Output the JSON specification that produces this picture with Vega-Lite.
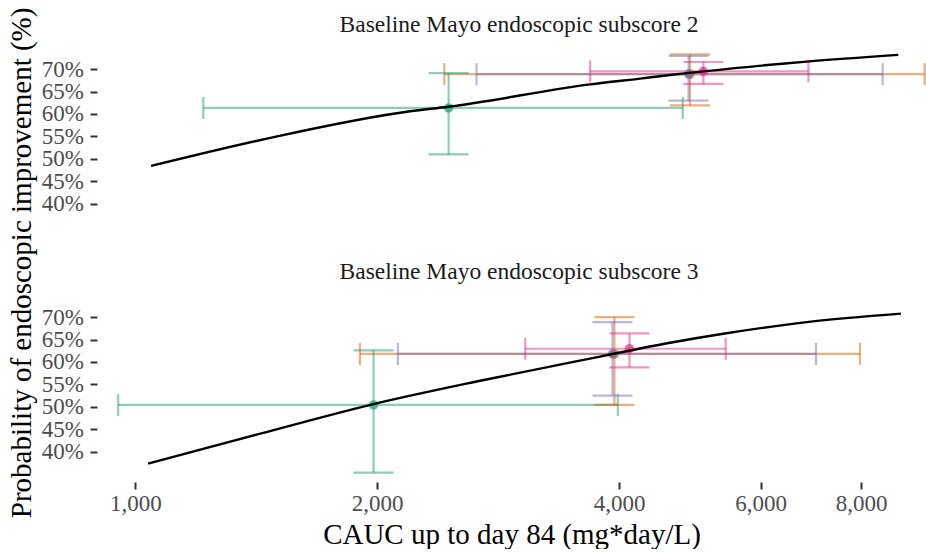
{
  "$schema": "https://vega.github.io/schema/vega-lite/v6.json",
  "background": "white",
  "padding": {"left": 7, "top": 7, "right": 0, "bottom": 0},
  "data": {"values": [
    {"panel": "s2", "kind": "pt", "grp": "A", "x": 2454, "xlo": 1215, "xhi": 4800, "p": 61.35, "ylo": 51.0, "yhi": 69.1},
    {"panel": "s2", "kind": "pt", "grp": "B", "x": 4900, "xlo": 2424, "xhi": 9600, "p": 68.9, "ylo": 61.9, "yhi": 73.3},
    {"panel": "s2", "kind": "pt", "grp": "C", "x": 4880, "xlo": 2658, "xhi": 8511, "p": 68.9, "ylo": 62.97, "yhi": 72.95},
    {"panel": "s2", "kind": "pt", "grp": "D", "x": 5092, "xlo": 3681, "xhi": 6880, "p": 69.5, "ylo": 66.7, "yhi": 71.6},
    {"panel": "s3", "kind": "pt", "grp": "A", "x": 1979, "xlo": 952, "xhi": 3985, "p": 50.4, "ylo": 35.3, "yhi": 62.6},
    {"panel": "s3", "kind": "pt", "grp": "B", "x": 3946, "xlo": 1903, "xhi": 7975, "p": 61.8, "ylo": 50.4, "yhi": 70.0},
    {"panel": "s3", "kind": "pt", "grp": "C", "x": 3924, "xlo": 2122, "xhi": 7031, "p": 61.8, "ylo": 52.5, "yhi": 68.9},
    {"panel": "s3", "kind": "pt", "grp": "D", "x": 4120, "xlo": 3056, "xhi": 5428, "p": 62.95, "ylo": 58.8, "yhi": 66.4},
    {"panel": "s2", "kind": "curve", "x": 1046, "p": 48.4},
    {"panel": "s2", "kind": "curve", "x": 1458, "p": 54.5},
    {"panel": "s2", "kind": "curve", "x": 2198, "p": 60.6},
    {"panel": "s2", "kind": "curve", "x": 2451, "p": 61.6},
    {"panel": "s2", "kind": "curve", "x": 3681, "p": 66.6},
    {"panel": "s2", "kind": "curve", "x": 4247, "p": 67.9},
    {"panel": "s2", "kind": "curve", "x": 4629, "p": 68.7},
    {"panel": "s2", "kind": "curve", "x": 5092, "p": 69.5},
    {"panel": "s2", "kind": "curve", "x": 6845, "p": 71.7},
    {"panel": "s2", "kind": "curve", "x": 8900, "p": 73.2},
    {"panel": "s3", "kind": "curve", "x": 1037, "p": 37.3},
    {"panel": "s3", "kind": "curve", "x": 1431, "p": 44.0},
    {"panel": "s3", "kind": "curve", "x": 1979, "p": 50.6},
    {"panel": "s3", "kind": "curve", "x": 2686, "p": 55.8},
    {"panel": "s3", "kind": "curve", "x": 3787, "p": 61.2},
    {"panel": "s3", "kind": "curve", "x": 4629, "p": 64.3},
    {"panel": "s3", "kind": "curve", "x": 5391, "p": 66.3},
    {"panel": "s3", "kind": "curve", "x": 6845, "p": 68.9},
    {"panel": "s3", "kind": "curve", "x": 8968, "p": 70.8}
  ]},
  "bounds": "flush",
  "spacing": 59,
  "vconcat": [
    {
      "title": {"text": "Baseline Mayo endoscopic subscore 2", "offset": -29},
      "width": 829,
      "height": 189,
      "transform": [{"filter": "datum.panel == 's2'"}],
      "layer": [
        {
          "transform": [{"filter": "datum.kind == 'pt'"}],
          "mark": {"type": "rule", "strokeWidth": 2.2, "opacity": 0.5},
          "encoding": {
            "x": {"field": "xlo", "type": "quantitative", "scale": {"type": "log", "domain": [896, 9636], "nice": false, "zero": false}, "axis": null},
            "x2": {"field": "xhi"},
            "y": {"field": "p", "type": "quantitative", "scale": {"domain": [33.2, 75.4], "nice": false, "zero": false}, "title": "Probability of endoscopic improvement (%)", "axis": {"values": [40, 45, 50, 55, 60, 65, 70], "labelExpr": "datum.value + '%'", "titleY": 217.4}},
            "color": {"field": "grp", "type": "nominal", "scale": {"domain": ["A", "B", "C", "D"], "range": ["#1b9e77", "#d95f02", "#7570b3", "#e7298a"]}, "legend": null}
          }
        },
        {
          "transform": [{"filter": "datum.kind == 'pt'"}],
          "mark": {"type": "rule", "strokeWidth": 2.2, "opacity": 0.5},
          "encoding": {
            "x": {"field": "x", "type": "quantitative", "scale": {"type": "log", "domain": [896, 9636], "nice": false, "zero": false}, "axis": null},
            "y": {"field": "ylo", "type": "quantitative", "scale": {"domain": [33.2, 75.4], "nice": false, "zero": false}, "title": "Probability of endoscopic improvement (%)", "axis": {"values": [40, 45, 50, 55, 60, 65, 70], "labelExpr": "datum.value + '%'", "titleY": 217.4}},
            "y2": {"field": "yhi"},
            "color": {"field": "grp", "type": "nominal", "scale": {"domain": ["A", "B", "C", "D"], "range": ["#1b9e77", "#d95f02", "#7570b3", "#e7298a"]}, "legend": null}
          }
        },
        {
          "transform": [{"filter": "datum.kind == 'pt'"}],
          "mark": {"type": "tick", "orient": "vertical", "size": 22, "thickness": 2.2, "opacity": 0.5},
          "encoding": {
            "x": {"field": "xlo", "type": "quantitative", "scale": {"type": "log", "domain": [896, 9636], "nice": false, "zero": false}, "axis": null},
            "y": {"field": "p", "type": "quantitative", "scale": {"domain": [33.2, 75.4], "nice": false, "zero": false}, "title": "Probability of endoscopic improvement (%)", "axis": {"values": [40, 45, 50, 55, 60, 65, 70], "labelExpr": "datum.value + '%'", "titleY": 217.4}},
            "color": {"field": "grp", "type": "nominal", "scale": {"domain": ["A", "B", "C", "D"], "range": ["#1b9e77", "#d95f02", "#7570b3", "#e7298a"]}, "legend": null}
          }
        },
        {
          "transform": [{"filter": "datum.kind == 'pt'"}],
          "mark": {"type": "tick", "orient": "vertical", "size": 22, "thickness": 2.2, "opacity": 0.5},
          "encoding": {
            "x": {"field": "xhi", "type": "quantitative", "scale": {"type": "log", "domain": [896, 9636], "nice": false, "zero": false}, "axis": null},
            "y": {"field": "p", "type": "quantitative", "scale": {"domain": [33.2, 75.4], "nice": false, "zero": false}, "title": "Probability of endoscopic improvement (%)", "axis": {"values": [40, 45, 50, 55, 60, 65, 70], "labelExpr": "datum.value + '%'", "titleY": 217.4}},
            "color": {"field": "grp", "type": "nominal", "scale": {"domain": ["A", "B", "C", "D"], "range": ["#1b9e77", "#d95f02", "#7570b3", "#e7298a"]}, "legend": null}
          }
        },
        {
          "transform": [{"filter": "datum.kind == 'pt'"}],
          "mark": {"type": "tick", "orient": "horizontal", "size": 40, "thickness": 2.2, "opacity": 0.5},
          "encoding": {
            "x": {"field": "x", "type": "quantitative", "scale": {"type": "log", "domain": [896, 9636], "nice": false, "zero": false}, "axis": null},
            "y": {"field": "ylo", "type": "quantitative", "scale": {"domain": [33.2, 75.4], "nice": false, "zero": false}, "title": "Probability of endoscopic improvement (%)", "axis": {"values": [40, 45, 50, 55, 60, 65, 70], "labelExpr": "datum.value + '%'", "titleY": 217.4}},
            "color": {"field": "grp", "type": "nominal", "scale": {"domain": ["A", "B", "C", "D"], "range": ["#1b9e77", "#d95f02", "#7570b3", "#e7298a"]}, "legend": null}
          }
        },
        {
          "transform": [{"filter": "datum.kind == 'pt'"}],
          "mark": {"type": "tick", "orient": "horizontal", "size": 40, "thickness": 2.2, "opacity": 0.5},
          "encoding": {
            "x": {"field": "x", "type": "quantitative", "scale": {"type": "log", "domain": [896, 9636], "nice": false, "zero": false}, "axis": null},
            "y": {"field": "yhi", "type": "quantitative", "scale": {"domain": [33.2, 75.4], "nice": false, "zero": false}, "title": "Probability of endoscopic improvement (%)", "axis": {"values": [40, 45, 50, 55, 60, 65, 70], "labelExpr": "datum.value + '%'", "titleY": 217.4}},
            "color": {"field": "grp", "type": "nominal", "scale": {"domain": ["A", "B", "C", "D"], "range": ["#1b9e77", "#d95f02", "#7570b3", "#e7298a"]}, "legend": null}
          }
        },
        {
          "transform": [{"filter": "datum.kind == 'pt'"}],
          "mark": {"type": "circle", "size": 90, "opacity": 0.7},
          "encoding": {
            "x": {"field": "x", "type": "quantitative", "scale": {"type": "log", "domain": [896, 9636], "nice": false, "zero": false}, "axis": null},
            "y": {"field": "p", "type": "quantitative", "scale": {"domain": [33.2, 75.4], "nice": false, "zero": false}, "title": "Probability of endoscopic improvement (%)", "axis": {"values": [40, 45, 50, 55, 60, 65, 70], "labelExpr": "datum.value + '%'", "titleY": 217.4}},
            "color": {"field": "grp", "type": "nominal", "scale": {"domain": ["A", "B", "C", "D"], "range": ["#1b9e77", "#d95f02", "#7570b3", "#e7298a"]}, "legend": null}
          }
        },
        {
          "transform": [{"filter": "datum.kind == 'curve'"}],
          "mark": {"type": "line", "color": "#000000", "strokeWidth": 2.4, "interpolate": "monotone"},
          "encoding": {
            "x": {"field": "x", "type": "quantitative", "scale": {"type": "log", "domain": [896, 9636], "nice": false, "zero": false}, "axis": null},
            "y": {"field": "p", "type": "quantitative", "scale": {"domain": [33.2, 75.4], "nice": false, "zero": false}, "title": "Probability of endoscopic improvement (%)", "axis": {"values": [40, 45, 50, 55, 60, 65, 70], "labelExpr": "datum.value + '%'", "titleY": 217.4}}
          }
        }
      ]
    },
    {
      "title": {"text": "Baseline Mayo endoscopic subscore 3", "offset": 10},
      "width": 829,
      "height": 189,
      "transform": [{"filter": "datum.panel == 's3'"}],
      "layer": [
        {
          "transform": [{"filter": "datum.kind == 'pt'"}],
          "mark": {"type": "rule", "strokeWidth": 2.2, "opacity": 0.5},
          "encoding": {
            "x": {"field": "xlo", "type": "quantitative", "scale": {"type": "log", "domain": [896, 9636], "nice": false, "zero": false}, "title": "CAUC up to day 84 (mg*day/L)", "axis": {"values": [1000, 2000, 4000, 6000, 8000], "format": ","}},
            "x2": {"field": "xhi"},
            "y": {"field": "p", "type": "quantitative", "scale": {"domain": [33.2, 75.4], "nice": false, "zero": false}, "title": null, "axis": {"values": [40, 45, 50, 55, 60, 65, 70], "labelExpr": "datum.value + '%'"}},
            "color": {"field": "grp", "type": "nominal", "scale": {"domain": ["A", "B", "C", "D"], "range": ["#1b9e77", "#d95f02", "#7570b3", "#e7298a"]}, "legend": null}
          }
        },
        {
          "transform": [{"filter": "datum.kind == 'pt'"}],
          "mark": {"type": "rule", "strokeWidth": 2.2, "opacity": 0.5},
          "encoding": {
            "x": {"field": "x", "type": "quantitative", "scale": {"type": "log", "domain": [896, 9636], "nice": false, "zero": false}, "title": "CAUC up to day 84 (mg*day/L)", "axis": {"values": [1000, 2000, 4000, 6000, 8000], "format": ","}},
            "y": {"field": "ylo", "type": "quantitative", "scale": {"domain": [33.2, 75.4], "nice": false, "zero": false}, "title": null, "axis": {"values": [40, 45, 50, 55, 60, 65, 70], "labelExpr": "datum.value + '%'"}},
            "y2": {"field": "yhi"},
            "color": {"field": "grp", "type": "nominal", "scale": {"domain": ["A", "B", "C", "D"], "range": ["#1b9e77", "#d95f02", "#7570b3", "#e7298a"]}, "legend": null}
          }
        },
        {
          "transform": [{"filter": "datum.kind == 'pt'"}],
          "mark": {"type": "tick", "orient": "vertical", "size": 22, "thickness": 2.2, "opacity": 0.5},
          "encoding": {
            "x": {"field": "xlo", "type": "quantitative", "scale": {"type": "log", "domain": [896, 9636], "nice": false, "zero": false}, "title": "CAUC up to day 84 (mg*day/L)", "axis": {"values": [1000, 2000, 4000, 6000, 8000], "format": ","}},
            "y": {"field": "p", "type": "quantitative", "scale": {"domain": [33.2, 75.4], "nice": false, "zero": false}, "title": null, "axis": {"values": [40, 45, 50, 55, 60, 65, 70], "labelExpr": "datum.value + '%'"}},
            "color": {"field": "grp", "type": "nominal", "scale": {"domain": ["A", "B", "C", "D"], "range": ["#1b9e77", "#d95f02", "#7570b3", "#e7298a"]}, "legend": null}
          }
        },
        {
          "transform": [{"filter": "datum.kind == 'pt'"}],
          "mark": {"type": "tick", "orient": "vertical", "size": 22, "thickness": 2.2, "opacity": 0.5},
          "encoding": {
            "x": {"field": "xhi", "type": "quantitative", "scale": {"type": "log", "domain": [896, 9636], "nice": false, "zero": false}, "title": "CAUC up to day 84 (mg*day/L)", "axis": {"values": [1000, 2000, 4000, 6000, 8000], "format": ","}},
            "y": {"field": "p", "type": "quantitative", "scale": {"domain": [33.2, 75.4], "nice": false, "zero": false}, "title": null, "axis": {"values": [40, 45, 50, 55, 60, 65, 70], "labelExpr": "datum.value + '%'"}},
            "color": {"field": "grp", "type": "nominal", "scale": {"domain": ["A", "B", "C", "D"], "range": ["#1b9e77", "#d95f02", "#7570b3", "#e7298a"]}, "legend": null}
          }
        },
        {
          "transform": [{"filter": "datum.kind == 'pt'"}],
          "mark": {"type": "tick", "orient": "horizontal", "size": 40, "thickness": 2.2, "opacity": 0.5},
          "encoding": {
            "x": {"field": "x", "type": "quantitative", "scale": {"type": "log", "domain": [896, 9636], "nice": false, "zero": false}, "title": "CAUC up to day 84 (mg*day/L)", "axis": {"values": [1000, 2000, 4000, 6000, 8000], "format": ","}},
            "y": {"field": "ylo", "type": "quantitative", "scale": {"domain": [33.2, 75.4], "nice": false, "zero": false}, "title": null, "axis": {"values": [40, 45, 50, 55, 60, 65, 70], "labelExpr": "datum.value + '%'"}},
            "color": {"field": "grp", "type": "nominal", "scale": {"domain": ["A", "B", "C", "D"], "range": ["#1b9e77", "#d95f02", "#7570b3", "#e7298a"]}, "legend": null}
          }
        },
        {
          "transform": [{"filter": "datum.kind == 'pt'"}],
          "mark": {"type": "tick", "orient": "horizontal", "size": 40, "thickness": 2.2, "opacity": 0.5},
          "encoding": {
            "x": {"field": "x", "type": "quantitative", "scale": {"type": "log", "domain": [896, 9636], "nice": false, "zero": false}, "title": "CAUC up to day 84 (mg*day/L)", "axis": {"values": [1000, 2000, 4000, 6000, 8000], "format": ","}},
            "y": {"field": "yhi", "type": "quantitative", "scale": {"domain": [33.2, 75.4], "nice": false, "zero": false}, "title": null, "axis": {"values": [40, 45, 50, 55, 60, 65, 70], "labelExpr": "datum.value + '%'"}},
            "color": {"field": "grp", "type": "nominal", "scale": {"domain": ["A", "B", "C", "D"], "range": ["#1b9e77", "#d95f02", "#7570b3", "#e7298a"]}, "legend": null}
          }
        },
        {
          "transform": [{"filter": "datum.kind == 'pt'"}],
          "mark": {"type": "circle", "size": 90, "opacity": 0.7},
          "encoding": {
            "x": {"field": "x", "type": "quantitative", "scale": {"type": "log", "domain": [896, 9636], "nice": false, "zero": false}, "title": "CAUC up to day 84 (mg*day/L)", "axis": {"values": [1000, 2000, 4000, 6000, 8000], "format": ","}},
            "y": {"field": "p", "type": "quantitative", "scale": {"domain": [33.2, 75.4], "nice": false, "zero": false}, "title": null, "axis": {"values": [40, 45, 50, 55, 60, 65, 70], "labelExpr": "datum.value + '%'"}},
            "color": {"field": "grp", "type": "nominal", "scale": {"domain": ["A", "B", "C", "D"], "range": ["#1b9e77", "#d95f02", "#7570b3", "#e7298a"]}, "legend": null}
          }
        },
        {
          "transform": [{"filter": "datum.kind == 'curve'"}],
          "mark": {"type": "line", "color": "#000000", "strokeWidth": 2.4, "interpolate": "monotone"},
          "encoding": {
            "x": {"field": "x", "type": "quantitative", "scale": {"type": "log", "domain": [896, 9636], "nice": false, "zero": false}, "title": "CAUC up to day 84 (mg*day/L)", "axis": {"values": [1000, 2000, 4000, 6000, 8000], "format": ","}},
            "y": {"field": "p", "type": "quantitative", "scale": {"domain": [33.2, 75.4], "nice": false, "zero": false}, "title": null, "axis": {"values": [40, 45, 50, 55, 60, 65, 70], "labelExpr": "datum.value + '%'"}}
          }
        }
      ]
    }
  ],
  "config": {
    "view": {"stroke": null},
    "font": "Liberation Serif",
    "title": {"font": "Liberation Serif", "fontSize": 23.5, "fontWeight": "normal", "color": "#1a1a1a", "anchor": "middle", "frame": "group", "dx": 7.5},
    "axis": {
      "domain": false, "grid": false, "ticks": true, "tickColor": "#333333", "tickWidth": 2, "tickSize": 7,
      "labelFont": "Liberation Serif", "labelFontSize": 23, "labelColor": "#4d4d4d", "labelOverlap": false, "labelBound": false, "labelFlush": false,
      "titleFont": "Liberation Serif", "titleFontSize": 29, "titleColor": "#000000", "titleFontWeight": "normal"
    },
    "axisX": {"labelPadding": 3, "titlePadding": 5},
    "axisY": {"labelPadding": 6.5, "titlePadding": 5}
  }
}
